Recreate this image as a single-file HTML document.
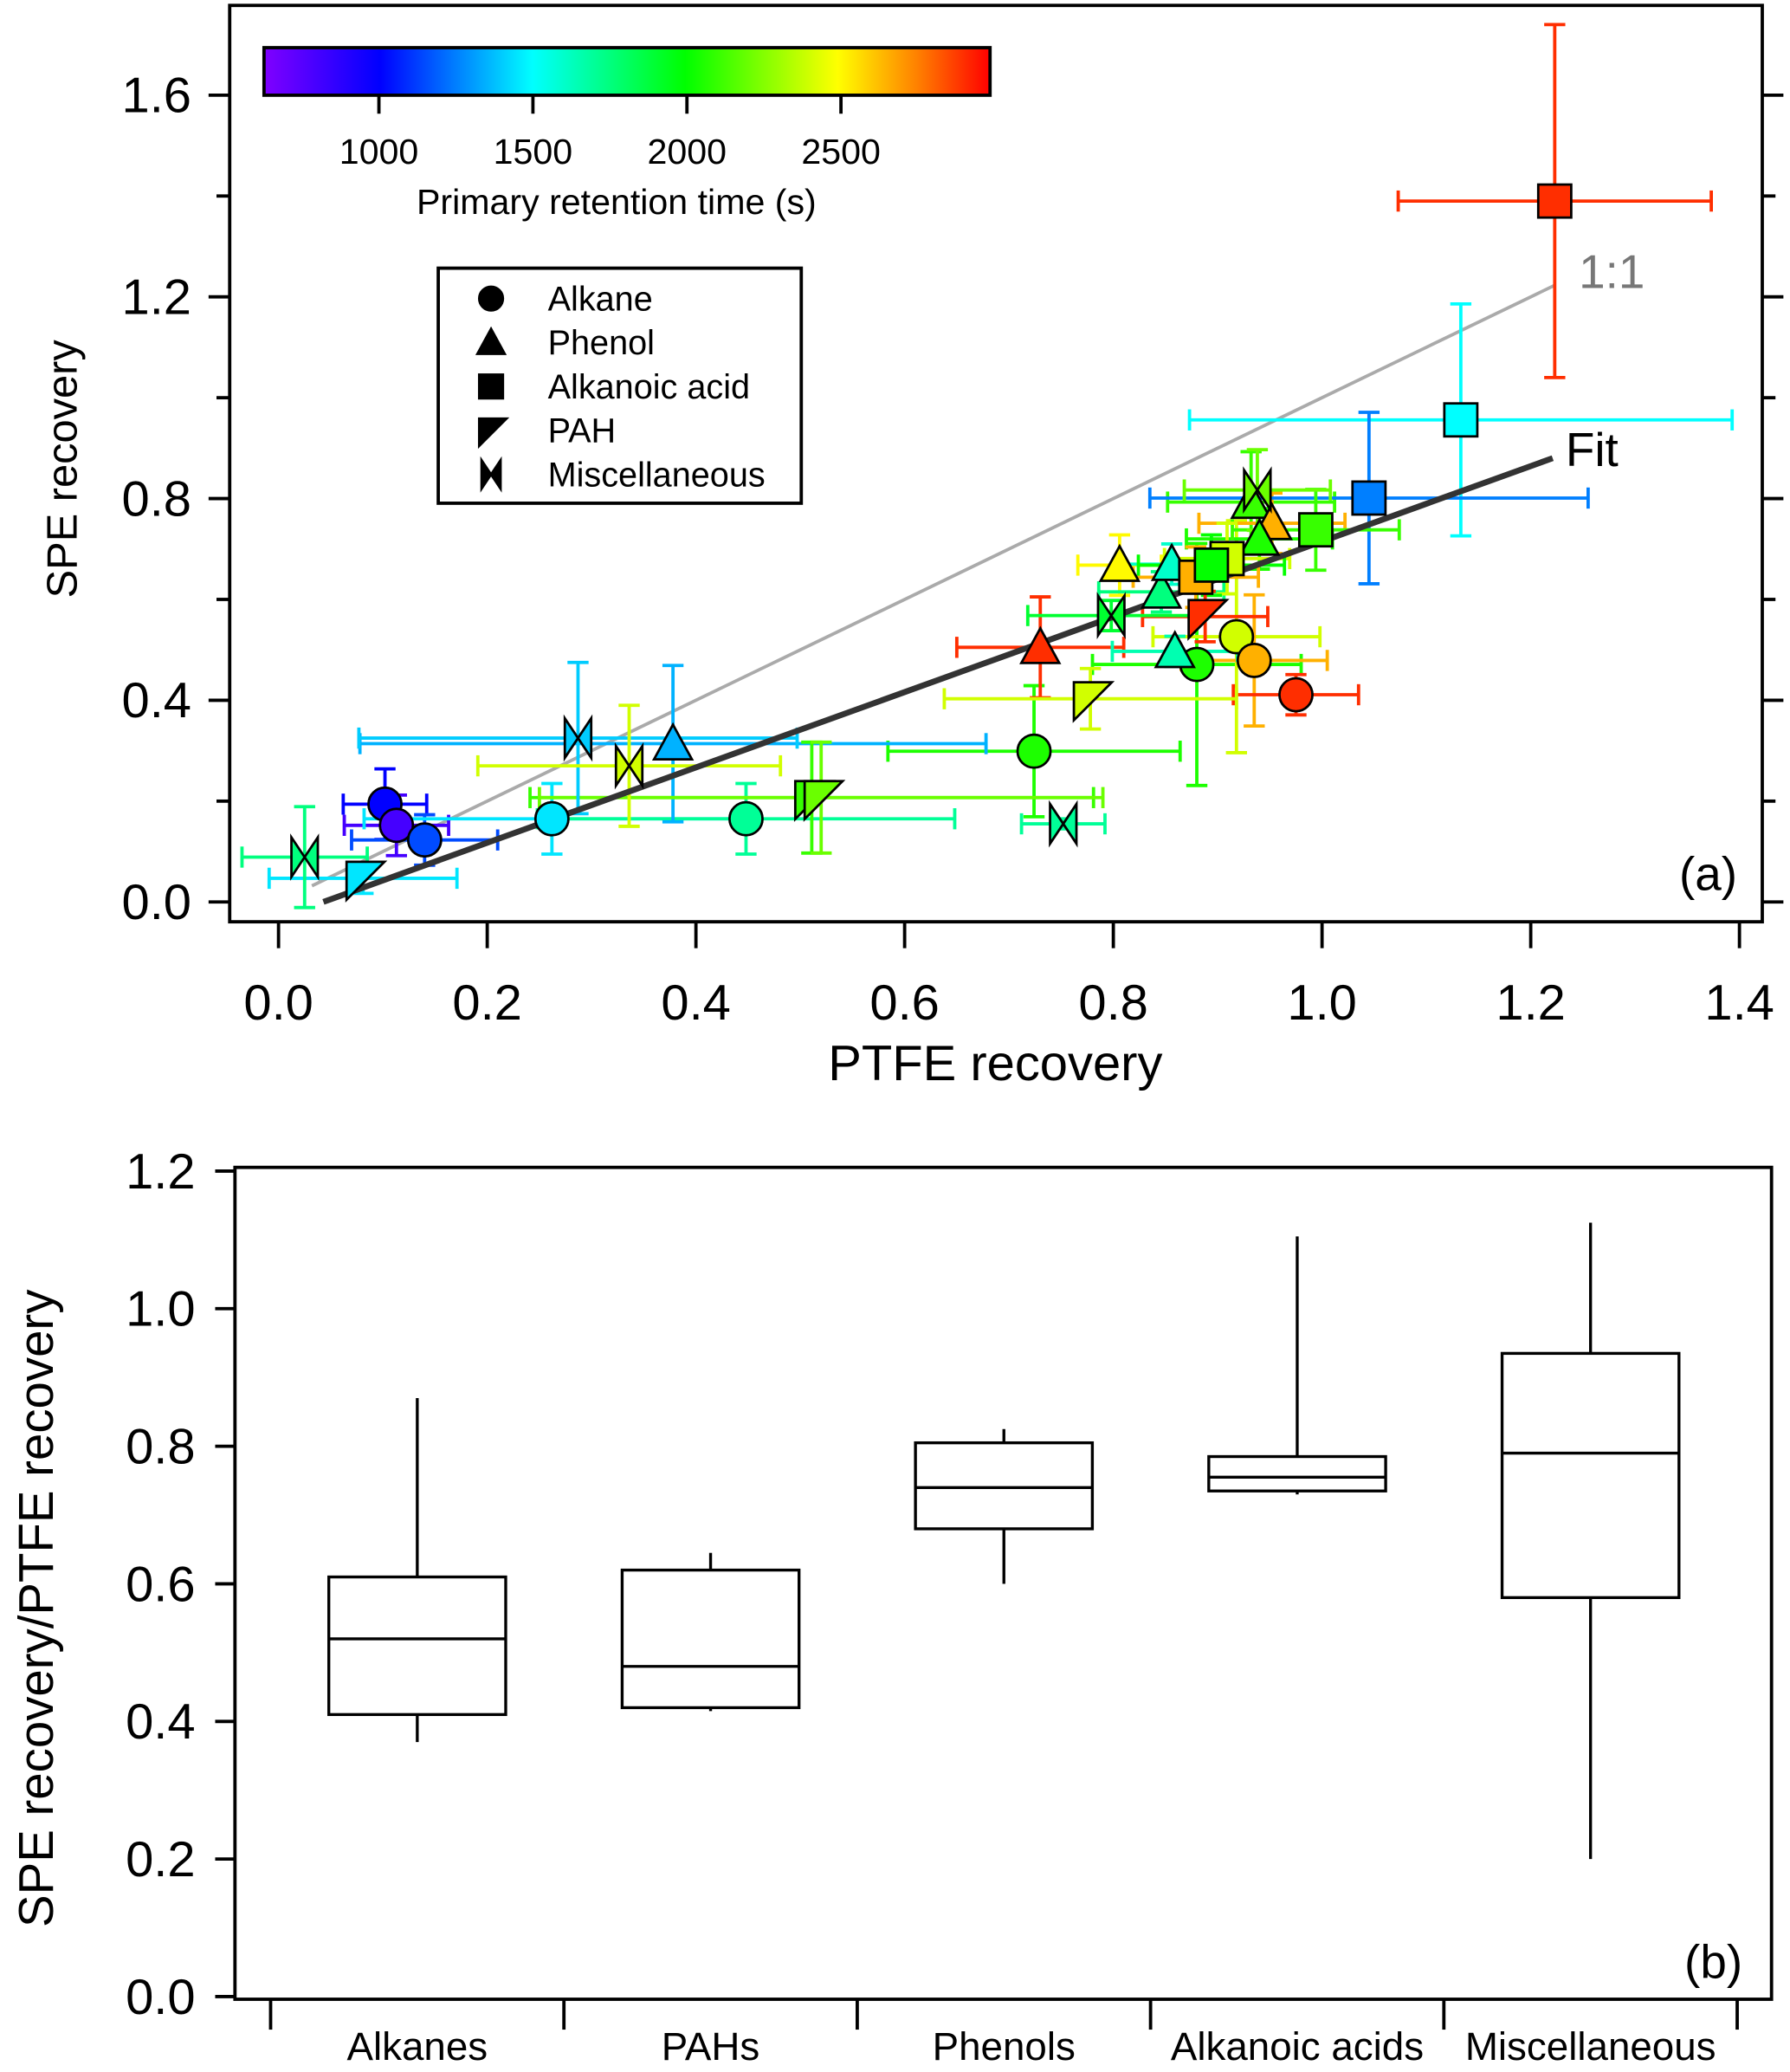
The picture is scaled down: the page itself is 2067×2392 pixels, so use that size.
<!DOCTYPE html>
<html><head><meta charset="utf-8"><style>
html,body{margin:0;padding:0;background:#fff}
svg{display:block}
text{font-family:"Liberation Sans",sans-serif;fill:#000}
</style></head><body>
<svg id="fig" width="2067" height="2392" viewBox="0 0 1356 1569" xmlns="http://www.w3.org/2000/svg">
<defs>
<linearGradient id="cmap" x1="0" x2="1" y1="0" y2="0">
<stop offset="0" stop-color="#8000ff"/><stop offset="0.16" stop-color="#0000ff"/><stop offset="0.37" stop-color="#00ffff"/><stop offset="0.58" stop-color="#00ff00"/><stop offset="0.79" stop-color="#ffff00"/><stop offset="0.9" stop-color="#ff8000"/><stop offset="1" stop-color="#ff0000"/>
</linearGradient>
</defs>
<g id="panelA"></g>
<g id="panelB"></g>
</svg>
<script>
// ---------- Panel (a) data ----------
const ptX   = [0.102,0.113,0.140,0.262,0.448,0.724,0.880,0.918,0.935,0.975, 0.378,0.730,0.806,0.859,0.846,0.856,0.932,0.952,0.940, 1.223,1.133,1.045,0.994,0.909,0.879,0.894, 0.081,0.511,0.520,0.778,0.888, 0.025,0.287,0.336,0.752,0.798,0.938];
const ptY   = [0.194,0.152,0.123,0.165,0.165,0.299,0.471,0.526,0.479,0.411, 0.314,0.505,0.668,0.497,0.615,0.670,0.793,0.751,0.720, 1.390,0.956,0.801,0.738,0.681,0.644,0.668, 0.047,0.207,0.207,0.403,0.566, 0.089,0.325,0.270,0.155,0.568,0.817];
const ptXerr= [0.040,0.050,0.070,0.180,0.200,0.140,0.100,0.080,0.070,0.060, 0.300,0.080,0.040,0.060,0.060,0.050,0.080,0.070,0.070, 0.150,0.260,0.210,0.080,0.060,0.060,0.070, 0.090,0.270,0.270,0.140,0.060, 0.060,0.210,0.145,0.040,0.080,0.070];
const ptYerr= [0.070,0.060,0.050,0.070,0.070,0.130,0.240,0.230,0.130,0.040, 0.155,0.100,0.060,0.030,0.040,0.040,0.100,0.060,0.060, 0.350,0.230,0.170,0.080,0.070,0.060,0.060, 0.030,0.110,0.110,0.060,0.050, 0.100,0.150,0.120,0.010,0.030,0.080];
const ptShape=["c","c","c","c","c","c","c","c","c","c", "t","t","t","t","t","t","t","t","t", "s","s","s","s","s","s","s", "p","p","p","p","p", "m","m","m","m","m","m"];
const ptRT  = [1000,800,1150,1450,1700,2050,2050,2400,2650,2900, 1350,2900,2500,1650,1750,1600,2100,2650,2050, 2900,1500,1250,2100,2400,2650,2000, 1450,2100,2200,2400,2900, 1750,1400,2400,1700,1900,2200];
const xTicks=[0,0.2,0.4,0.6,0.8,1.0,1.2,1.4];
const yTicksA=[0,0.4,0.8,1.2,1.6];
const cbTicks=[1000,1500,2000,2500];
const fitLine=[0.043,1.221]; const fitSlope=0.747, fitInt=-0.032;
const oneLine=[0.032,1.223];
// ---------- Panel (b) data ----------
const cats=["Alkanes","PAHs","Phenols","Alkanoic  acids","Miscellaneous"];
const wLo=[0.37,0.415,0.60,0.73,0.20];
const qLo=[0.41,0.42,0.68,0.735,0.58];
const med=[0.52,0.48,0.74,0.755,0.79];
const qHi=[0.61,0.62,0.805,0.785,0.935];
const wHi=[0.87,0.645,0.825,1.105,1.125];
const yTicksB=[0,0.2,0.4,0.6,0.8,1.0,1.2];

const NS="http://www.w3.org/2000/svg";
function mk(parent,tag,attrs,txt){const e=document.createElementNS(NS,tag);for(const k in attrs)e.setAttribute(k,attrs[k]);if(txt!==undefined)e.textContent=txt;parent.appendChild(e);return e;}
const A=document.getElementById('panelA'), B=document.getElementById('panelB');
const xs=v=>211+v*790.5, ys=v=>683-v*381.9;
const rtMin=627, rtMax=2984;
const stops=[[0,[128,0,255]],[0.16,[0,0,255]],[0.37,[0,255,255]],[0.58,[0,255,0]],[0.79,[255,255,0]],[0.9,[255,128,0]],[1,[255,0,0]]];
function cmap(rt){let t=Math.max(0,Math.min(1,(rt-rtMin)/(rtMax-rtMin)));for(let i=1;i<stops.length;i++){if(t<=stops[i][0]){const a=stops[i-1],b=stops[i];const f=(t-a[0])/(b[0]-a[0]);const c=a[1].map((v,j)=>Math.round(v+(b[1][j]-v)*f));return `rgb(${c})`;}}return 'rgb(255,0,0)';}

// frame a
let e;
e=mk(A,'rect',{x:174,y:4,width:1161,height:694,fill:'none',stroke:'#000','stroke-width':2.5});


xTicks.forEach(v=>{const x=xs(v);
 e=mk(A,'line',{x1:x,x2:x,y1:698,y2:718,stroke:'#000','stroke-width':2.5});
 
 
 e=mk(A,'text',{x:x,y:772,'font-size':38,'text-anchor':'middle'},v.toFixed(1));
 
 });
for(let v=0;v<=1.6001;v+=0.2){const y=ys(v);const big=Math.abs((v/0.4)-Math.round(v/0.4))<1e-6;
 e=mk(A,'line',{x1:big?158:164,x2:174,y1:y,y2:y,stroke:'#000','stroke-width':2.5});
 
 
 e=mk(A,'line',{x1:1335,x2:big?1351:1345,y1:y,y2:y,stroke:'#000','stroke-width':2.5});
 
 }
yTicksA.forEach(v=>{e=mk(A,'text',{x:145,y:ys(v)+13,'font-size':38,'text-anchor':'end'},v.toFixed(1));
 
 });
e=mk(A,'text',{x:754,y:818,'font-size':38,'text-anchor':'middle'},'PTFE  recovery');


e=mk(A,'text',{x:0,y:0,'font-size':32,'text-anchor':'middle',transform:'translate(58,355) rotate(-90)'},'SPE  recovery');


// lines
e=mk(A,'line',{x1:xs(oneLine[0]),y1:ys(oneLine[0]),x2:xs(oneLine[1]),y2:ys(oneLine[1]),stroke:'#aaa','stroke-width':2.5});


e=mk(A,'text',{x:1196,y:218,'font-size':36,fill:'#777',style:'fill:#777'},'1:1');


// error bars
ptX.forEach((x,i)=>{const c=cmap(ptRT[i]);const g=mk(A,'g',{stroke:c,'stroke-width':2.5});
 
 
 const x1=xs(x-ptXerr[i]),x2=xs(x+ptXerr[i]),y=ys(ptY[i]),y1=ys(ptY[i]+ptYerr[i]),y2=ys(ptY[i]-ptYerr[i]),px=xs(x);
 mk(g,'line',{x1:x1,x2:x2,y1:y,y2:y});mk(g,'line',{x1:x1,x2:x1,y1:y-8,y2:y+8});mk(g,'line',{x1:x2,x2:x2,y1:y-8,y2:y+8});
 mk(g,'line',{x1:px,x2:px,y1:y1,y2:y2});mk(g,'line',{x1:px-8,x2:px+8,y1:y1,y2:y1});mk(g,'line',{x1:px-8,x2:px+8,y1:y2,y2:y2});});
// fit line
e=mk(A,'line',{x1:xs(fitLine[0]),y1:ys(fitSlope*fitLine[0]+fitInt),x2:xs(fitLine[1]),y2:ys(fitSlope*fitLine[1]+fitInt),stroke:'#333','stroke-width':4.5});


e=mk(A,'text',{x:1186,y:353,'font-size':36},'Fit');


function marker(p,shape,x,y,fill,r){const st={fill:fill,stroke:'#000','stroke-width':1.8};let m;
 if(shape==='c')m=mk(p,'circle',Object.assign({cx:x,cy:y,r:r},st));
 else if(shape==='s')m=mk(p,'rect',Object.assign({x:x-r,y:y-r,width:2*r,height:2*r},st));
 else if(shape==='t')m=mk(p,'polygon',Object.assign({points:`${x},${y-r*1.15} ${x-r*1.15},${y+r*0.95} ${x+r*1.15},${y+r*0.95}`},st));
 else if(shape==='p')m=mk(p,'polygon',Object.assign({points:`${x-r},${y-r} ${x+r*1.3},${y-r} ${x-r},${y+r*1.3}`},st));
 else m=mk(p,'polygon',Object.assign({points:`${x-r*0.8},${y-r*1.2} ${x+r*0.8},${y+r*1.2} ${x+r*0.8},${y-r*1.2} ${x-r*0.8},${y+r*1.2}`},st));
 return m;}
ptX.forEach((x,i)=>{const m=marker(A,ptShape[i],xs(x),ys(ptY[i]),cmap(ptRT[i]),12.5);
 
 });
e=mk(A,'text',{x:1316,y:674,'font-size':36,'text-anchor':'end'},'(a)');


// colorbar
e=mk(A,'rect',{x:200,y:36,width:550,height:36,fill:'url(#cmap)',stroke:'#000','stroke-width':2.5});


cbTicks.forEach(v=>{const x=200+(v-rtMin)/(rtMax-rtMin)*550;
 e=mk(A,'line',{x1:x,x2:x,y1:72,y2:86,stroke:'#000','stroke-width':2.5});
 
 
 e=mk(A,'text',{x:x,y:124,'font-size':27,'text-anchor':'middle'},String(v));
 
 });
e=mk(A,'text',{x:467,y:162,'font-size':27,'text-anchor':'middle'},'Primary retention time (s)');


// legend
const lg=mk(A,'g',{});


mk(lg,'rect',{x:332,y:203,width:275,height:178,fill:'#fff',stroke:'#000','stroke-width':2.5});
const lgNames=["Alkane","Phenol","Alkanoic acid","PAH","Miscellaneous"], lgShapes=["c","t","s","p","m"];
lgNames.forEach((n,i)=>{const y=226+i*33.3;const g=mk(lg,'g',{});
 
 
 marker(g,lgShapes[i],372,y,'#000',9);
 mk(g,'text',{x:415,y:y+9,'font-size':26},n);});

// ---------- Panel (b) ----------
const yb=v=>1512-v*521;
const catW=222.2, catX0=205;
e=mk(B,'rect',{x:178,y:884,width:1164,height:630,fill:'none',stroke:'#000','stroke-width':2.5});


yTicksB.forEach(v=>{const y=yb(v);
 e=mk(B,'line',{x1:163,x2:178,y1:y,y2:y,stroke:'#000','stroke-width':2.5});
 
 
 e=mk(B,'text',{x:148,y:y+13,'font-size':38,'text-anchor':'end'},v.toFixed(1));
 
 });
for(let i=0;i<=cats.length;i++){const x=catX0+i*catW;
 e=mk(B,'line',{x1:x,x2:x,y1:1514,y2:1537,stroke:'#000','stroke-width':2.5});
 
 }
e=mk(B,'text',{x:0,y:0,'font-size':37,'text-anchor':'middle',transform:'translate(40,1218) rotate(-90)'},'SPE recovery/PTFE recovery');


cats.forEach((c,i)=>{const cx=catX0+(i+0.5)*catW, hw=67;
 const g=mk(B,'g',{stroke:'#000','stroke-width':2.2,fill:'none'});
 
 
 mk(g,'line',{x1:cx,x2:cx,y1:yb(wHi[i]),y2:yb(qHi[i])});
 mk(g,'line',{x1:cx,x2:cx,y1:yb(qLo[i]),y2:yb(wLo[i])});
 mk(g,'rect',{x:cx-hw,y:yb(qHi[i]),width:2*hw,height:yb(qLo[i])-yb(qHi[i])});
 mk(g,'line',{x1:cx-hw,x2:cx+hw,y1:yb(med[i]),y2:yb(med[i])});
 e=mk(B,'text',{x:cx,y:1560,'font-size':30,'text-anchor':'middle'},c);
 
 });
e=mk(B,'text',{x:1320,y:1498,'font-size':36,'text-anchor':'end'},'(b)');


</script>
</body></html>
